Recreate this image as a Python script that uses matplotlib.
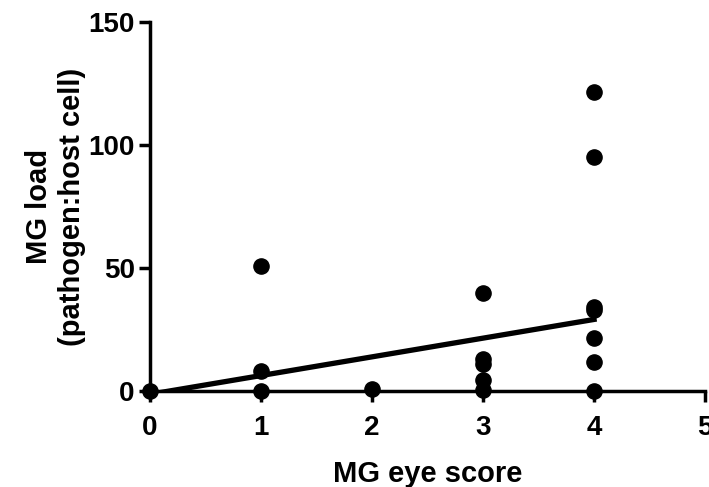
import numpy as np
import matplotlib.pyplot as plt

plt.rcParams['font.family'] = ['Liberation Sans', 'DejaVu Sans']
plt.rcParams['font.weight'] = 'bold'

# MG eye score vs MG load, one value per bird
eye_score = [0, 1, 1, 1, 2, 3, 3, 3, 3, 3, 4, 4, 4, 4, 4, 4, 4]
mg_load = [0, 51, 8, 0, 1, 40, 13, 11, 4.5, 0.4, 121.5, 95, 34, 33, 21.5, 12, 0]

# fitted line as drawn in the figure
fit_slope = 7.6
fit_intercept = -1.3
fit_range = [0, 4]

fig, ax = plt.subplots(figsize=(7.09, 4.87), dpi=100)
fig.subplots_adjust(left=0.2116, right=0.9944, bottom=0.197, top=0.955)

ax.scatter(eye_score, mg_load, s=120, color='black', zorder=3, clip_on=False)

fx = np.array(fit_range)
ax.plot(fx, fit_slope * fx + fit_intercept, color='black', lw=3.8, zorder=2)

ax.set_xlim(0, 5)
ax.set_ylim(0, 150)
ax.set_xticks([0, 1, 2, 3, 4, 5])
ax.set_yticks([0, 50, 100, 150])

for side in ['top', 'right']:
    ax.spines[side].set_visible(False)
for side in ['left', 'bottom']:
    ax.spines[side].set_linewidth(2.5)
ax.tick_params(direction='out', length=8, width=2.5, labelsize=20, pad=3)
ax.tick_params(axis='x', pad=9)
for lab in ax.get_xticklabels() + ax.get_yticklabels():
    lab.set_fontweight('bold')

ax.set_xlabel('MG eye score', fontsize=21, fontweight='bold', labelpad=14)
ax.set_ylabel('MG load\n(pathogen:host cell)', fontsize=21, fontweight='bold', labelpad=2)

fig.savefig('out.png', dpi=100)
